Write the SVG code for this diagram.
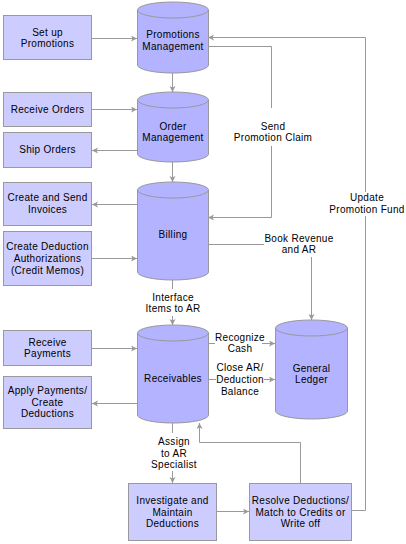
<svg xmlns="http://www.w3.org/2000/svg" width="406" height="544" viewBox="0 0 406 544">
<style>
.box{fill:#ccccff;stroke:#999999;stroke-width:1}
.cyl{fill:#b3b3ff;stroke:#999999;stroke-width:1}
.rim{fill:none;stroke:#999999;stroke-width:1}
.t{font-family:"Liberation Sans",Arial,sans-serif;font-size:10px;fill:#000000;text-anchor:middle;letter-spacing:0.3px}
.ln{fill:none;stroke:#999999;stroke-width:1}
.ar{marker-end:url(#ah)}
</style>
<defs>
<marker id="ah" markerUnits="userSpaceOnUse" markerWidth="7" markerHeight="7" refX="6" refY="3" orient="auto">
<path d="M0,0 L6,3 L0,6 L1.5,3 Z" fill="#999999"/>
</marker>
</defs>
<rect width="406" height="544" fill="#ffffff"/>

<g id="setup"><rect class="box" x="3.5" y="15.5" width="88" height="44"/><text class="t" x="47.5" y="36">Set up</text><text class="t" x="47.5" y="47">Promotions</text></g>
<g id="receiveorders"><rect class="box" x="3.5" y="92.5" width="88" height="34"/><text class="t" x="47.5" y="113">Receive Orders</text></g>
<g id="shiporders"><rect class="box" x="3.5" y="132.5" width="88" height="35"/><text class="t" x="47.5" y="153">Ship Orders</text></g>
<g id="invoices"><rect class="box" x="3.5" y="182.5" width="88" height="43"/><text class="t" x="47.5" y="201">Create and Send</text><text class="t" x="47.5" y="213">Invoices</text></g>
<g id="deductauth"><rect class="box" x="3.5" y="231.5" width="88" height="54"/><text class="t" x="47.5" y="250">Create Deduction</text><text class="t" x="47.5" y="262">Authorizations</text><text class="t" x="47.5" y="274">(Credit Memos)</text></g>
<g id="receivepay"><rect class="box" x="3.5" y="330.5" width="88" height="35"/><text class="t" x="47.5" y="346">Receive</text><text class="t" x="47.5" y="357">Payments</text></g>
<g id="applypay"><rect class="box" x="3.5" y="376.5" width="88" height="52"/><text class="t" x="47.5" y="394">Apply Payments/</text><text class="t" x="47.5" y="406">Create</text><text class="t" x="47.5" y="417">Deductions</text></g>
<g id="investigate"><rect class="box" x="128.5" y="483.5" width="88" height="57"/><text class="t" x="172.5" y="504">Investigate and</text><text class="t" x="172.5" y="516">Maintain</text><text class="t" x="172.5" y="527">Deductions</text></g>
<g id="resolve"><rect class="box" x="249.5" y="483.5" width="102" height="57"/><text class="t" x="300.5" y="504">Resolve Deductions/</text><text class="t" x="300.5" y="516">Match to Credits or</text><text class="t" x="300.5" y="527">Write off</text></g>

<g id="promomgmt"><path class="cyl" d="M137.5,10 A35.5,8 0 0 1 208.5,10 V65 A35.5,8 0 0 1 137.5,65 Z"/><path class="rim" d="M137.5,10 A35.5,8 0 0 0 208.5,10"/><text class="t" x="173" y="38">Promotions</text><text class="t" x="173" y="50">Management</text></g>
<g id="ordermgmt"><path class="cyl" d="M137.5,100 A35.5,8 0 0 1 208.5,100 V154 A35.5,8 0 0 1 137.5,154 Z"/><path class="rim" d="M137.5,100 A35.5,8 0 0 0 208.5,100"/><text class="t" x="173" y="130">Order</text><text class="t" x="173" y="141">Management</text></g>
<g id="billing"><path class="cyl" d="M137.5,190 A35.5,8 0 0 1 208.5,190 V272 A35.5,8 0 0 1 137.5,272 Z"/><path class="rim" d="M137.5,190 A35.5,8 0 0 0 208.5,190"/><text class="t" x="173" y="238">Billing</text></g>
<g id="receivables"><path class="cyl" d="M137.5,333 A35.5,8 0 0 1 208.5,333 V415 A35.5,8 0 0 1 137.5,415 Z"/><path class="rim" d="M137.5,333 A35.5,8 0 0 0 208.5,333"/><text class="t" x="173" y="382">Receivables</text></g>
<g id="ledger"><path class="cyl" d="M275.5,328 A36,8 0 0 1 347.5,328 V411 A36,8 0 0 1 275.5,411 Z"/><path class="rim" d="M275.5,328 A36,8 0 0 0 347.5,328"/><text class="t" x="311.5" y="372">General</text><text class="t" x="311.5" y="383">Ledger</text></g>

<g id="connectors">
<path class="ln ar" d="M92,38.5 H137"/>
<path class="ln ar" d="M172.5,73 V92"/>
<path class="ln ar" d="M92,109.5 H137"/>
<path class="ln ar" d="M137,150.5 H92"/>
<path class="ln ar" d="M172.5,162 V182"/>
<path class="ln ar" d="M137,204.5 H92"/>
<path class="ln ar" d="M92,258.5 H137"/>
<path class="ln" d="M208,46.5 H271.5 V108"/>
<path class="ln ar" d="M271.5,146 V217.5 H208"/>
<path class="ln" d="M352,510.5 H365.5 V216"/>
<path class="ln ar" d="M365.5,192 V37.5 H208"/>
<path class="ln" d="M208,244.5 H264"/>
<path class="ln ar" d="M311.5,257 V320"/>
<path class="ln" d="M172.5,280 V289"/>
<path class="ln ar" d="M172.5,316 V325"/>
<path class="ln ar" d="M92,348.5 H137"/>
<path class="ln ar" d="M137,403.5 H92"/>
<path class="ln" d="M208,343.5 H215"/>
<path class="ln ar" d="M262,343.5 H275"/>
<path class="ln" d="M208,379.5 H216"/>
<path class="ln ar" d="M264,379.5 H275"/>
<path class="ln" d="M172.5,423 V433"/>
<path class="ln ar" d="M172.5,471 V483"/>
<path class="ln ar" d="M217,511.5 H249"/>
<path class="ln ar" d="M300.5,483 V442.5 H199.5 V423"/>
<text class="t" x="273" y="130">Send</text><text class="t" x="273" y="141">Promotion Claim</text>
<text class="t" x="367" y="201">Update</text><text class="t" x="367" y="213">Promotion Fund</text>
<text class="t" x="299" y="242">Book Revenue</text><text class="t" x="299" y="253">and AR</text>
<text class="t" x="173" y="301">Interface</text><text class="t" x="173" y="312">Items to AR</text>
<text class="t" x="240" y="341">Recognize</text><text class="t" x="240" y="352">Cash</text>
<text class="t" x="240" y="371">Close AR/</text><text class="t" x="240" y="383">Deduction</text><text class="t" x="240" y="395">Balance</text>
<text class="t" x="174" y="445">Assign</text><text class="t" x="174" y="457">to AR</text><text class="t" x="174" y="468">Specialist</text>
</g>
</svg>
